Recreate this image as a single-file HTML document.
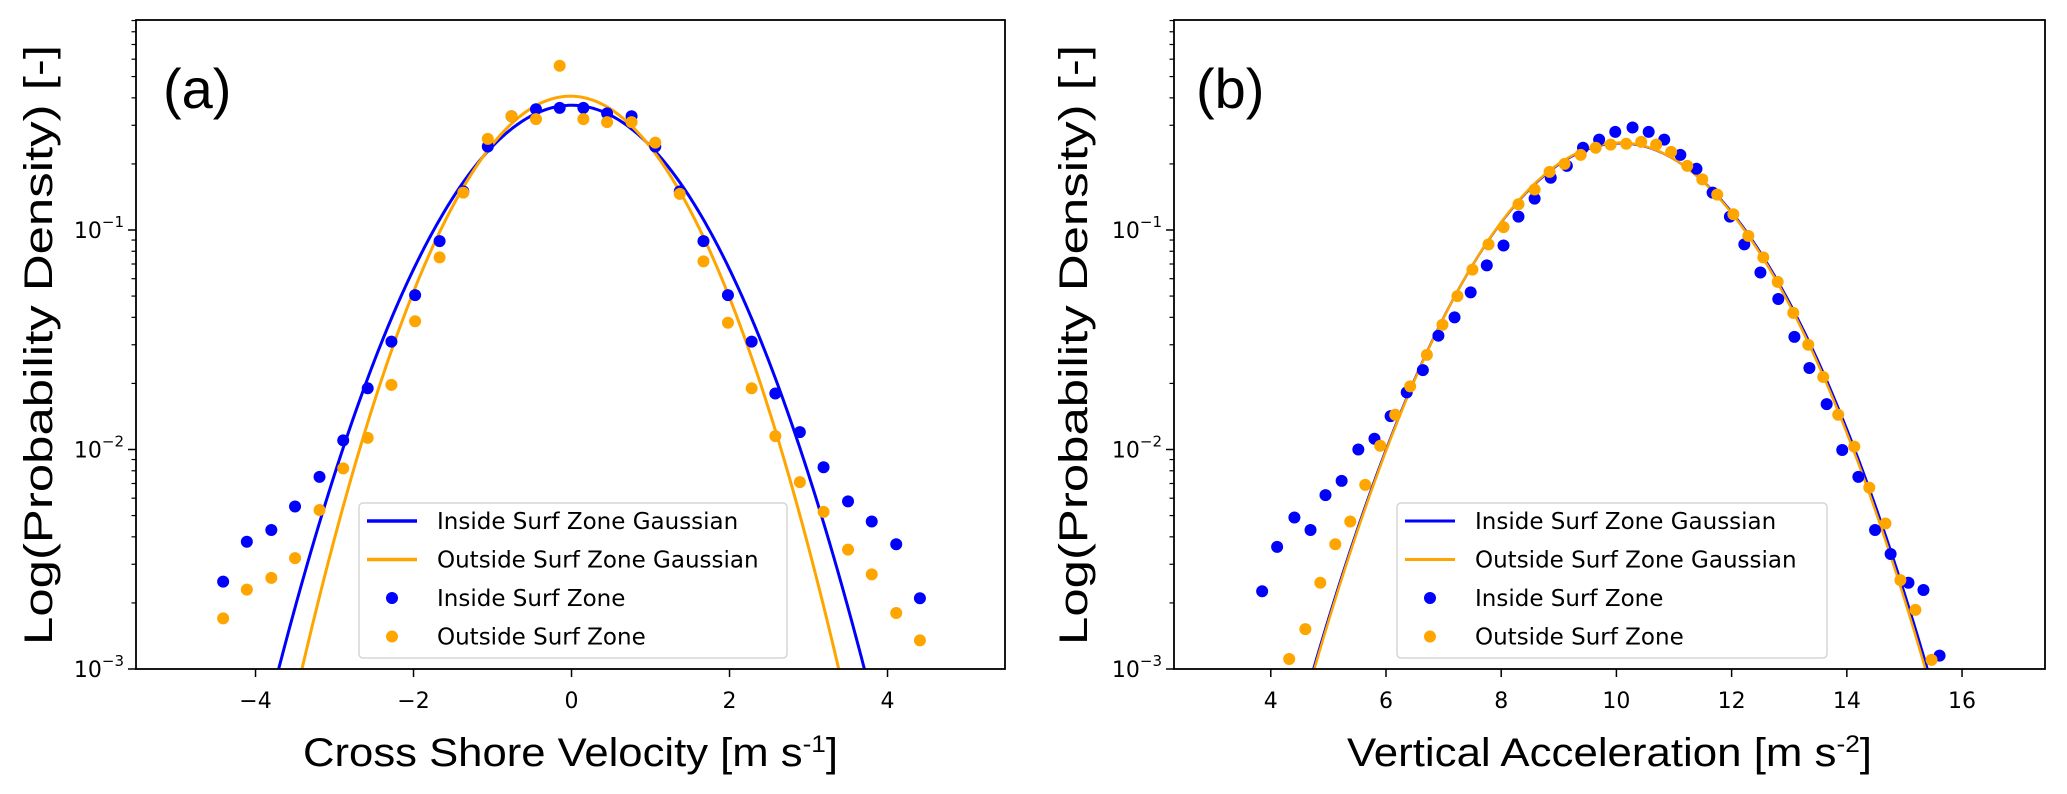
<!DOCTYPE html>
<html><head><meta charset="utf-8"><title>PDF panels</title>
<style>
html,body{margin:0;padding:0;background:#fff;width:2067px;height:794px;overflow:hidden;}
svg{display:block;overflow:hidden;}
text{font-family:"DejaVu Sans","Liberation Sans",sans-serif;}
.big{font-family:"Liberation Sans",Arial,sans-serif;}
</style></head>
<body>
<svg id="fig" width="2067" height="794" viewBox="0 0 2067 794" xmlns="http://www.w3.org/2000/svg"></svg>
<script>
// ---------- Panel (a) data ----------
const aX = [-4.41,-4.11,-3.80,-3.50,-3.19,-2.89,-2.58,-2.28,-1.98,-1.67,-1.37,-1.06,-0.76,-0.45,-0.15,0.15,0.45,0.76,1.06,1.37,1.67,1.98,2.28,2.58,2.89,3.19,3.50,3.80,4.11,4.41];
const aInside = [0.0025,0.0038,0.0043,0.0055,0.0075,0.011,0.019,0.031,0.0505,0.089,0.15,0.24,0.33,0.355,0.36,0.36,0.34,0.33,0.24,0.15,0.089,0.0505,0.031,0.018,0.012,0.0083,0.0058,0.0047,0.0037,0.0021];
const aOutside = [0.0017,0.0023,0.0026,0.0032,0.0053,0.0082,0.0113,0.0197,0.0384,0.075,0.148,0.26,0.33,0.32,0.56,0.32,0.31,0.31,0.25,0.146,0.072,0.0378,0.019,0.0115,0.0071,0.0052,0.0035,0.0027,0.0018,0.00135];
const aFitMean = [0.0, -0.015];
const aFitSigma = [1.078, 0.980];
const aXTicks = [-4,-2,0,2,4];
// ---------- Panel (b) data ----------
const bXIn = [3.85,4.11,4.41,4.69,4.95,5.23,5.52,5.80,6.08,6.36,6.64,6.91,7.19,7.47,7.75,8.04,8.30,8.58,8.86,9.14,9.42,9.70,9.98,10.28,10.56,10.83,11.11,11.39,11.67,11.97,12.22,12.50,12.81,13.09,13.35,13.65,13.92,14.20,14.49,14.76,15.07,15.33,15.61];
const bInside = [0.00226,0.0036,0.0049,0.0043,0.0062,0.0072,0.0100,0.0112,0.0142,0.0182,0.023,0.033,0.040,0.052,0.069,0.085,0.115,0.139,0.173,0.196,0.237,0.258,0.280,0.293,0.280,0.258,0.220,0.19,0.148,0.115,0.086,0.064,0.0485,0.0326,0.0235,0.0161,0.00995,0.0075,0.0043,0.00334,0.00247,0.00229,0.00115];
const bXOut = [4.32,4.60,4.86,5.12,5.38,5.64,5.90,6.16,6.42,6.71,6.98,7.24,7.50,7.78,8.04,8.30,8.58,8.84,9.10,9.38,9.64,9.90,10.17,10.43,10.69,10.95,11.23,11.49,11.75,12.03,12.29,12.55,12.80,13.07,13.33,13.59,13.85,14.13,14.39,14.67,14.93,15.19,15.47];
const bOutside = [0.00111,0.00152,0.00247,0.0037,0.0047,0.0069,0.0104,0.0144,0.0194,0.027,0.037,0.050,0.066,0.086,0.103,0.131,0.153,0.184,0.20,0.22,0.237,0.245,0.247,0.252,0.245,0.227,0.196,0.17,0.145,0.118,0.094,0.075,0.058,0.0419,0.030,0.0214,0.0144,0.0103,0.0067,0.0046,0.00254,0.00186,0.0011];
const bFitMean = [10.07, 10.06];
const bFitSigma = [1.605, 1.596];
const bXTicks = [4,6,8,10,12,14,16];

const NS = "http://www.w3.org/2000/svg";
const svg = document.getElementById('fig');
function mk(tag, attrs, parent){
  const e = document.createElementNS(NS, tag);
  for (const k in attrs) e.setAttribute(k, attrs[k]);
  (parent||svg).appendChild(e);
  return e;
}
const BLUE = "#0000ff", ORANGE = "#ffa500";
const YTOP = 20, YBOT = 669, LOGTOP = -3 + (669-20)/219.5;

function panel(cfg){
  const g = mk('g', {});
  
  
  const L = cfg.left, R = cfg.right;
  const xs = v => L + (v - cfg.xmin) / (cfg.xmax - cfg.xmin) * (R - L);
  const ys = v => YBOT - (Math.log10(v) + 3) / (LOGTOP + 3) * (YBOT - YTOP);
  const clip = mk('clipPath', {id: cfg.name + '-clip'}, g);
  mk('rect', {x: L, y: YTOP, width: R - L, height: YBOT - YTOP}, clip);
  const plot = mk('g', {'clip-path': 'url(#' + cfg.name + '-clip)'}, g);
  
  

  const fitCols = [BLUE, ORANGE];
  for (let s = 0; s < 2; s++) {
    const m = cfg.mean[s], sd = cfg.sigma[s];
    let d = '';
    for (let i = 0; i <= 600; i++) {
      const x = cfg.xmin + (cfg.xmax - cfg.xmin) * i / 600;
      const p = Math.exp(-0.5 * ((x - m) / sd) ** 2) / (sd * Math.sqrt(2 * Math.PI));
      const yy = Math.min(ys(Math.max(p, 1e-6)), 760);
      d += (i ? 'L' : 'M') + xs(x).toFixed(2) + ',' + yy.toFixed(2);
    }
    const path = mk('path', {d: d, fill: 'none', stroke: fitCols[s], 'stroke-width': cfg.lw}, plot);
    
    
  }
  const sets = [[cfg.xIn, cfg.inside, BLUE, 'inside-point'], [cfg.xOut, cfg.outside, ORANGE, 'outside-point']];
  sets.forEach(st => {
    st[0].forEach((x, i) => {
      const c = mk('circle', {cx: xs(x).toFixed(2), cy: ys(st[1][i]).toFixed(2), r: 6, fill: st[2]}, plot);
      
      
    });
  });
  const fr = mk('rect', {x: L, y: YTOP, width: R - L, height: YBOT - YTOP, fill: 'none', stroke: '#000', 'stroke-width': 1.8}, g);
  
  
  cfg.xticks.forEach(t => {
    const x = xs(t);
    mk('line', {x1: x, x2: x, y1: YBOT, y2: YBOT + 8, stroke: '#000', 'stroke-width': 1.5}, g);
    const tx = mk('text', {x: x, y: 708, 'text-anchor': 'middle', 'font-size': 22}, g);
    tx.textContent = (t < 0 ? '\u2212' + Math.abs(t) : String(t));
    
    
  });
  for (let e = -3; e <= -1; e++) {
    const y = ys(Math.pow(10, e));
    mk('line', {x1: L - 8, x2: L, y1: y, y2: y, stroke: '#000', 'stroke-width': 1.5}, g);
    const tx = mk('text', {x: L - 12, y: y + 8, 'text-anchor': 'end', 'font-size': 22}, g);
    
    
    const base = mk('tspan', {}, tx); base.textContent = '10';
    const sup = mk('tspan', {dy: -11, 'font-size': 15}, tx); sup.textContent = '\u2212' + (-e);
    for (let k = 2; k <= 9; k++) {
      const v = k * Math.pow(10, e);
      if (Math.log10(v) > LOGTOP) continue;
      const yy = ys(v);
      mk('line', {x1: L - 4.5, x2: L, y1: yy, y2: yy, stroke: '#000', 'stroke-width': 1.2}, g);
    }
  }
  const pl = mk('text', {x: cfg.letterX, y: 108, 'font-size': 56, class: 'big'}, g);
  pl.textContent = cfg.letter;
  
  
  const xl = mk('text', {x: (L + R) / 2, y: 766, 'text-anchor': 'middle', 'font-size': 40, class: 'big', textLength: cfg.xlabLen, lengthAdjust: 'spacingAndGlyphs'}, g);
  
  
  const a1 = mk('tspan', {}, xl); a1.textContent = cfg.xlabel;
  const a2 = mk('tspan', {dy: -14, 'font-size': 24}, xl); a2.textContent = cfg.xsup;
  const a3 = mk('tspan', {dy: 14}, xl); a3.textContent = ']';
  const yl = mk('text', {x: 0, y: 0, 'text-anchor': 'middle', 'font-size': 40, class: 'big', textLength: 600, lengthAdjust: 'spacingAndGlyphs', transform: 'translate(' + cfg.ylabX + ',345) rotate(-90)'}, g);
  yl.textContent = 'Log(Probability Density) [-]';
  
  
  const lg = mk('g', {}, g);
  
  
  const lx = cfg.legX, lw = cfg.legW;
  mk('rect', {x: lx, y: 503, width: lw, height: 155, rx: 4, fill: '#fff', 'fill-opacity': 0.85, stroke: '#d6d6d6', 'stroke-width': 1.5}, lg);
  const labels = ['Inside Surf Zone Gaussian', 'Outside Surf Zone Gaussian', 'Inside Surf Zone', 'Outside Surf Zone'];
  const cols = [BLUE, ORANGE, BLUE, ORANGE];
  labels.forEach((lab, i) => {
    const cy = 521 + i * 38.5;
    const entry = mk('g', {}, lg);
    
    
    if (i < 2) mk('line', {x1: lx + 8, x2: lx + 58, y1: cy, y2: cy, stroke: cols[i], 'stroke-width': cfg.lw + 0.5}, entry);
    else mk('circle', {cx: lx + 33, cy: cy, r: 6, fill: cols[i]}, entry);
    const t = mk('text', {x: lx + 78, y: cy + 8, 'font-size': 23}, entry);
    t.textContent = lab;
  });
}

panel({name: 'panel-a', left: 136, right: 1005, xmin: -5.513, xmax: 5.487,
  xIn: aX, inside: aInside, xOut: aX, outside: aOutside, mean: aFitMean, sigma: aFitSigma,
  xticks: aXTicks, lw: 3, letter: '(a)', letterX: 163, xlabel: 'Cross Shore Velocity [m s', xsup: '-1', xlabLen: 535,
  ylabX: 52, legX: 359, legW: 428});
panel({name: 'panel-b', left: 1174, right: 2045, xmin: 2.32, xmax: 17.44,
  xIn: bXIn, inside: bInside, xOut: bXOut, outside: bOutside, mean: bFitMean, sigma: bFitSigma,
  xticks: bXTicks, lw: 2.5, letter: '(b)', letterX: 1196, xlabel: 'Vertical Acceleration [m s', xsup: '-2', xlabLen: 525,
  ylabX: 1087, legX: 1397, legW: 430});
</script>
</body></html>
